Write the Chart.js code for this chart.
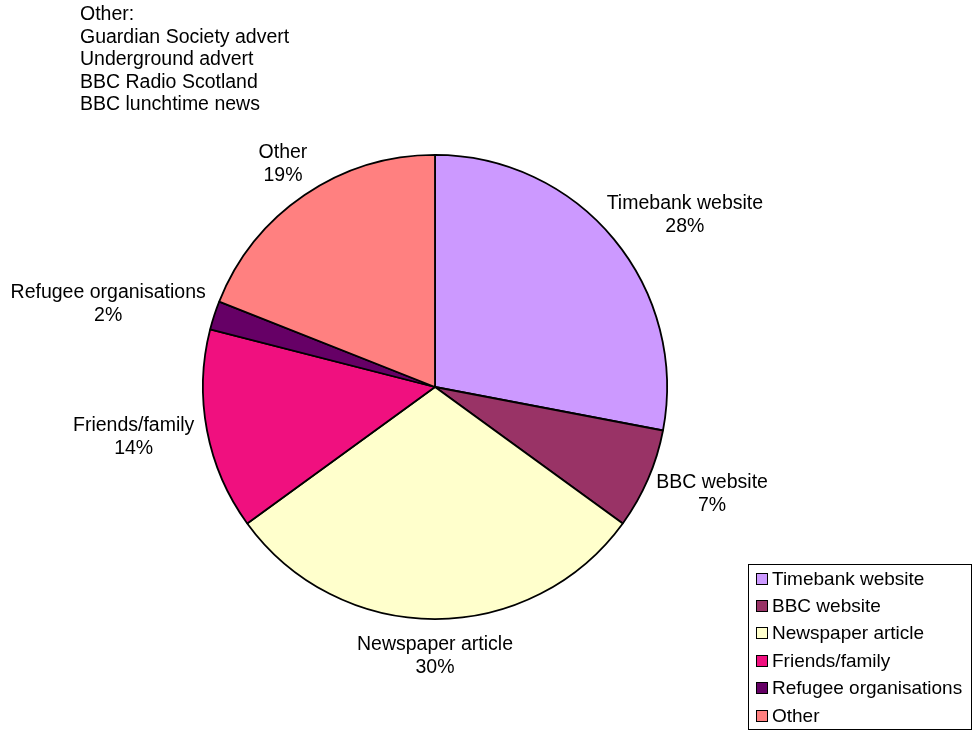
<!DOCTYPE html>
<html>
<head>
<meta charset="utf-8">
<script src="https://cdn.jsdelivr.net/npm/chart.js@4"></script>
<style>
  body { margin: 0; background: #fff; font-family: "Liberation Sans", Arial, sans-serif; }
  #wrap { position: relative; width: 975px; height: 731px; }
  #note { position: absolute; left: 80px; top: 2px; font-size: 19.5px; line-height: 22.5px; color: #000; }
  #legend { position: absolute; left: 748px; top: 564px; width: 224px; height: 166px; border: 1px solid #000; box-sizing: border-box; }
  .item { height: 27.4px; display: flex; align-items: center; font-size: 19px; white-space: nowrap; }
  .box { width: 10px; height: 10px; border: 1.5px solid #000; margin: 0 4px 0 7px; flex: none; }
</style>
</head>
<body>
<div id="wrap">
  <canvas id="pie" width="975" height="731"></canvas>
  <div id="note"></div>
  <div id="legend"></div>
</div>
<script>
//data
const categories = ['Timebank website', 'BBC website', 'Newspaper article', 'Friends/family', 'Refugee organisations', 'Other'];
const shares = [28, 7, 30, 14, 2, 19];
const sliceColors = ['#CC99FF', '#993366', '#FFFFCC', '#F0107F', '#660066', '#FF8080'];
const noteLines = ['Other:', 'Guardian Society advert', 'Underground advert', 'BBC Radio Scotland', 'BBC lunchtime news'];

//note text top left
document.getElementById('note').innerHTML = noteLines.join('<br>');

//legend
const legend = document.getElementById('legend');
categories.forEach((name, i) => {
    const row = document.createElement('div');
    row.className = 'item';
    row.innerHTML = '<span class="box" style="background:' + sliceColors[i] + '"></span>' + name;
    legend.appendChild(row);
});

//outside labels: name + percent
const sliceLabels = {
    id: 'sliceLabels',
    afterDatasetsDraw(chart) {
        const ctx = chart.ctx;
        const total = shares.reduce((a, b) => a + b, 0);
        ctx.save();
        ctx.font = '19.5px "Liberation Sans", Arial, sans-serif';
        ctx.fillStyle = '#000';
        ctx.textAlign = 'center';
        ctx.textBaseline = 'middle';
        chart.getDatasetMeta(0).data.forEach((arc, i) => {
            const mid = (arc.startAngle + arc.endAngle) / 2;
            const r = arc.outerRadius + 14;
            const px = arc.x + Math.cos(mid) * r;
            const py = arc.y + Math.sin(mid) * r;
            const pct = Math.round(shares[i] / total * 100) + '%';
            const w = Math.max(ctx.measureText(categories[i]).width, ctx.measureText(pct).width);
            const h = 46;
            const cx = px + Math.cos(mid) * w / 2;
            const cy = py + Math.sin(mid) * h / 2;
            ctx.fillText(categories[i], cx, cy - 11.5);
            ctx.fillText(pct, cx, cy + 11.5);
        });
        ctx.restore();
    }
};

const pieChart = new Chart(document.getElementById('pie'), {
    type: 'pie',
    data: {
        labels: categories,
        datasets: [{
            data: shares,
            backgroundColor: sliceColors,
            borderColor: '#000',
            borderWidth: 1.8,
        }]
    },
    options: {
        responsive: false,
        animation: false,
        layout: { padding: { left: 202, right: 307, top: 154, bottom: 111 } },
        plugins: {
            legend: { display: false },
            tooltip: { enabled: false },
        },
    },
    plugins: [sliceLabels],
});
</script>
</body>
</html>
